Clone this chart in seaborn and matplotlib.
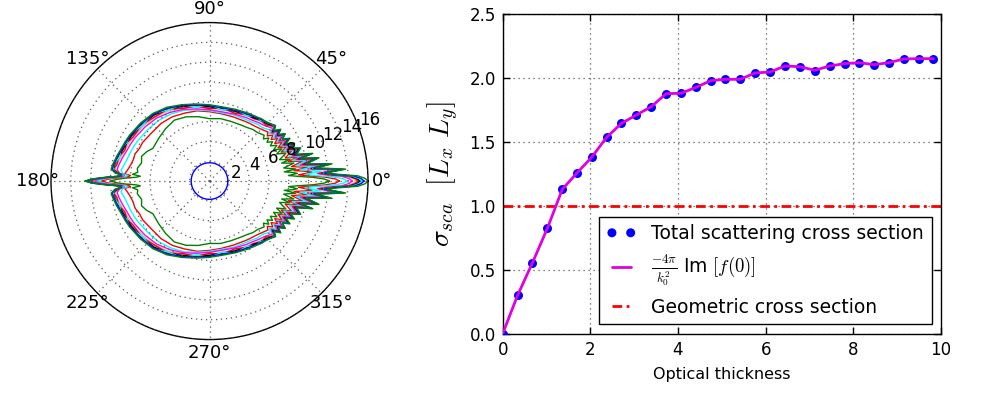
import numpy as np
import seaborn as sns
import matplotlib.pyplot as plt
from matplotlib.transforms import ScaledTranslation

# ---- left panel: angular distribution (upper half, mirrored for lower half) ----
THETA_DEG = [0, 1, 2, 3, 4, 5, 6, 7, 8, 10, 12, 14, 15, 17, 20, 22, 24, 26, 28, 30,
             32, 34, 36, 38, 40, 45, 50, 55, 60, 70, 80, 90, 100, 110, 120, 130, 140,
             150, 155, 160, 165, 170, 173, 175, 176, 177, 178, 179, 180]

R_BLUE = 1.85   # optical thickness 0: isotropic
R_GREEN = [12.1, 11.6, 10.5, 9.0, 8.0, 8.9, 8.4, 7.6, 8.8, 7.6, 8.7, 7.5, 8.4, 7.4, 8.2,
           7.3, 8.0, 7.2, 7.7, 7.1, 7.5, 7.0, 7.4, 6.9, 7.2, 6.9, 6.8, 6.6, 6.5, 6.4,
           6.4, 6.3, 6.6, 6.9, 7.1, 6.9, 6.7, 6.6, 7.0, 7.3, 7.1, 7.4, 7.3, 7.8, 7.0,
           7.4, 8.5, 9.4, 10.0]
R_RED = [13.1, 12.7, 11.6, 10.0, 9.0, 10.4, 9.6, 8.6, 10.0, 8.4, 9.6, 8.2, 9.2, 8.0, 8.8,
         7.8, 8.5, 7.7, 8.3, 7.6, 8.1, 7.5, 7.9, 7.4, 7.7, 7.4, 7.2, 7.1, 7.0, 6.9,
         6.9, 7.0, 7.2, 7.3, 7.5, 7.6, 7.6, 7.8, 7.8, 8.0, 8.0, 8.2, 8.4, 8.6, 8.0,
         8.2, 9.3, 10.3, 10.9]
R_CYAN = [13.9, 13.5, 12.4, 10.7, 9.7, 11.3, 10.3, 9.2, 10.8, 8.9, 10.0, 8.6, 9.7, 8.4, 9.1,
          8.1, 8.8, 8.0, 8.6, 7.9, 8.4, 7.8, 8.2, 7.7, 8.0, 7.6, 7.5, 7.3, 7.2, 7.1,
          7.0, 7.1, 7.3, 7.6, 7.8, 8.0, 8.1, 8.3, 8.4, 8.5, 8.6, 8.8, 9.0, 8.8, 8.3,
          8.5, 9.7, 10.8, 11.4]
R_MAGENTA = [14.4, 14.1, 13.4, 11.8, 10.9, 12.6, 11.2, 10.0, 11.5, 9.3, 10.5, 9.0, 10.1, 8.7, 9.3,
             8.4, 8.9, 8.2, 8.7, 8.1, 8.6, 8.0, 8.5, 7.9, 8.3, 7.9, 7.7, 7.5, 7.4, 7.2,
             7.1, 7.2, 7.4, 7.7, 8.0, 8.3, 8.5, 8.7, 8.8, 8.9, 9.1, 9.3, 9.4, 9.1, 8.6,
             8.8, 10.0, 11.1, 11.7]
R_YELLOW = [14.8, 14.5, 13.8, 12.1, 11.2, 13.0, 11.5, 10.2, 11.8, 9.5, 10.8, 9.2, 10.4, 8.9, 9.5,
            8.6, 9.1, 8.3, 8.9, 8.3, 8.8, 8.2, 8.6, 8.0, 8.5, 8.1, 7.9, 7.7, 7.6, 7.4,
            7.3, 7.4, 7.6, 7.9, 8.2, 8.5, 8.7, 8.9, 9.0, 9.1, 9.3, 9.5, 9.6, 9.3, 8.7,
            9.0, 10.2, 11.4, 12.0]
R_RED2 = [15.0, 14.7, 14.0, 12.2, 11.1, 13.1, 11.6, 10.3, 11.9, 9.5, 10.9, 9.1, 10.5, 8.8, 9.6,
          8.5, 9.2, 8.3, 9.0, 8.2, 8.8, 8.2, 8.7, 8.0, 8.6, 8.0, 8.1, 7.7, 7.7, 7.3,
          7.5, 7.3, 7.7, 7.8, 8.4, 8.5, 8.9, 8.9, 9.2, 9.1, 9.5, 9.5, 9.8, 9.2, 8.8,
          8.9, 10.3, 11.5, 12.1]
R_BLACK = [15.2, 14.9, 14.2, 12.4, 11.4, 13.3, 11.8, 10.4, 12.1, 9.7, 11.0, 9.3, 10.6, 9.0, 9.6,
           8.7, 9.2, 8.4, 9.0, 8.4, 8.9, 8.3, 8.7, 8.1, 8.6, 8.2, 8.0, 7.8, 7.7, 7.5,
           7.4, 7.5, 7.7, 8.0, 8.4, 8.7, 8.9, 9.1, 9.2, 9.3, 9.5, 9.7, 9.8, 9.4, 8.8,
           9.1, 10.4, 11.6, 12.3]
R_CYAN2 = [15.4, 15.1, 14.4, 12.6, 11.5, 13.4, 11.9, 10.5, 12.2, 9.8, 11.1, 9.4, 10.6, 9.1, 9.7,
           8.8, 9.3, 8.5, 9.1, 8.4, 8.9, 8.4, 8.8, 8.2, 8.6, 8.4, 8.0, 8.0, 7.6, 7.7,
           7.3, 7.7, 7.6, 8.2, 8.3, 8.9, 8.8, 9.3, 9.2, 9.5, 9.4, 9.8, 9.8, 9.5, 8.8,
           9.2, 10.4, 11.7, 12.4]
R_BLUE2 = [15.6, 15.3, 14.6, 12.7, 11.6, 13.6, 12.0, 10.6, 12.3, 9.8, 11.2, 9.4, 10.7, 9.1, 9.7,
           8.8, 9.3, 8.5, 9.1, 8.5, 9.0, 8.3, 8.8, 8.2, 8.7, 8.3, 8.1, 7.9, 7.8, 7.6,
           7.5, 7.6, 7.8, 8.1, 8.5, 8.8, 9.0, 9.2, 9.3, 9.4, 9.6, 9.8, 9.9, 9.5, 8.9,
           9.2, 10.5, 11.8, 12.5]
R_GREEN2 = [16.0, 15.7, 15.0, 13.0, 11.8, 13.8, 12.2, 10.8, 12.5, 9.9, 11.3, 9.5, 10.8, 9.2, 9.8,
            8.8, 9.4, 8.6, 9.2, 8.5, 9.0, 8.4, 8.9, 8.3, 8.7, 8.3, 8.2, 8.0, 7.9, 7.7,
            7.6, 7.7, 7.9, 8.2, 8.6, 8.9, 9.1, 9.3, 9.4, 9.5, 9.7, 9.9, 10.0, 9.6, 9.0,
            9.3, 10.6, 11.9, 12.6]

POLAR_CURVES = [
    ([R_BLUE] * len(THETA_DEG), 'blue'),
    (R_GREEN, 'green'),
    (R_RED, 'red'),
    (R_CYAN, 'cyan'),
    (R_MAGENTA, 'magenta'),
    (R_YELLOW, 'y'),
    (R_RED2, 'red'),
    (R_BLACK, 'black'),
    (R_CYAN2, 'cyan'),
    (R_BLUE2, 'blue'),
    (R_GREEN2, 'green'),
]

# ---- right panel: cross section vs optical thickness ----
OPT_THICK = [0.00, 0.34, 0.68, 1.02, 1.36, 1.70, 2.03, 2.37, 2.71, 3.05,
             3.39, 3.73, 4.07, 4.41, 4.75, 5.08, 5.42, 5.76, 6.10, 6.44,
             6.78, 7.12, 7.46, 7.80, 8.14, 8.47, 8.81, 9.15, 9.49, 9.83]
SIGMA_SCA = [0.0, 0.30, 0.555, 0.824, 1.129, 1.259, 1.379, 1.535, 1.645, 1.710,
             1.775, 1.877, 1.880, 1.926, 1.979, 1.989, 1.989, 2.039, 2.046, 2.093,
             2.088, 2.054, 2.093, 2.112, 2.119, 2.104, 2.119, 2.148, 2.151, 2.151]
SIGMA_OPT = [0.0, 0.30, 0.555, 0.824, 1.129, 1.259, 1.379, 1.535, 1.645, 1.710,
             1.775, 1.877, 1.880, 1.926, 1.979, 1.989, 1.989, 2.039, 2.046, 2.093,
             2.088, 2.060, 2.093, 2.112, 2.119, 2.104, 2.119, 2.148, 2.151, 2.151]
SIGMA_GEOM = 1.0

sns.set_theme(style='white', rc={
    'axes.edgecolor': 'black', 'axes.linewidth': 1.0,
    'text.color': 'black', 'axes.labelcolor': 'black',
    'xtick.color': 'black', 'ytick.color': 'black',
    'mathtext.fontset': 'cm',
})
plt.rcParams['font.family'] = ['DejaVu Sans']

fig = plt.figure(figsize=(9.96, 3.93), dpi=100)

# polar panel
axp = fig.add_axes([0.0512, 0.136, 0.3183, 0.8066], projection='polar')
th_up = np.array(THETA_DEG, dtype=float)
th_full = np.deg2rad(np.concatenate([th_up, 360.0 - th_up[::-1][1:]]))
for r_vals, col in POLAR_CURVES:
    r_up = np.array(r_vals, dtype=float)
    r_full = np.concatenate([r_up, r_up[::-1][1:]])
    sns.lineplot(x=th_full, y=r_full, ax=axp, color=col, lw=1.0,
                 sort=False, estimator=None)
axp.set_ylim(0, 16)
axp.set_yticks(range(2, 17, 2))
axp.set_rlabel_position(22.5)
axp.set_thetagrids(range(0, 360, 45))
axp.tick_params(axis='x', labelsize=13, pad=-3)
axp.tick_params(axis='y', labelsize=12)
axp.grid(True, color='0.35', linestyle=(0, (1, 3)), linewidth=0.9)
axp.spines['polar'].set_linewidth(1.0)
axp.set_xlabel('')
axp.set_ylabel('')
axp.yaxis.set_zorder(5)
shift = ScaledTranslation(0.03, -0.085, fig.dpi_scale_trans)
for lbl in axp.get_yticklabels():
    lbl.set_transform(lbl.get_transform() + shift)

# cross-section panel
ax = fig.add_axes([0.5047, 0.1509, 0.4400, 0.8135])
sns.scatterplot(x=OPT_THICK, y=SIGMA_SCA, ax=ax, color='blue', s=42,
                linewidth=0, zorder=3, label='Total scattering cross section')
sns.lineplot(x=OPT_THICK, y=SIGMA_OPT, ax=ax, color='#e000e0', lw=2, zorder=4,
             label=r'$\frac{-4\pi}{k_0^2}$ Im $[f(0)]$')
ax.axhline(SIGMA_GEOM, color='red', lw=2, linestyle=(0, (3.5, 1.6, 1, 1.6)),
           zorder=2, label='Geometric cross section')
ax.set_xlim(0, 10)
ax.set_ylim(0, 2.5)
ax.set_xticks(range(0, 11, 2))
ax.set_yticks(np.arange(0, 2.51, 0.5))
ax.set_yticklabels(['0.0', '0.5', '1.0', '1.5', '2.0', '2.5'])
ax.tick_params(direction='in', length=5, width=1, top=True, right=True,
               bottom=True, left=True, labelsize=12, pad=5)
ax.grid(True, color='0.35', linestyle=(0, (1, 3)), linewidth=0.9)
ax.set_xlabel('Optical thickness', fontsize=11.5, labelpad=6)
ax.set_ylabel(r'$\sigma_{sca}\ \ [L_x\ L_y]$', fontsize=20, labelpad=6)
leg = ax.legend(loc='lower right', scatterpoints=2, scatteryoffsets=[0.5],
                numpoints=2, fontsize=13.5, fancybox=False, framealpha=1,
                edgecolor='black', handlelength=1.6, borderaxespad=0.5)
leg.get_frame().set_linewidth(1.0)

fig.savefig('out.png', dpi=100)
